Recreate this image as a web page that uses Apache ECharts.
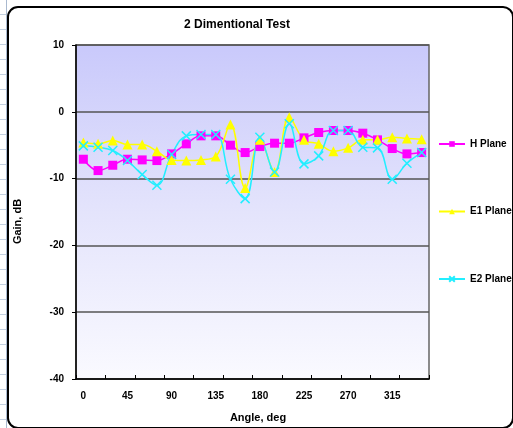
<!DOCTYPE html>
<html>
<head>
<meta charset="utf-8">
<script src="https://cdn.jsdelivr.net/npm/echarts@6/dist/echarts.min.js"></script>
<style>
  html, body { margin: 0; padding: 0; background: #ffffff; }
  #sheet {
    position: absolute; left: 0; top: 0; width: 6px; height: 428px;
    border-right: 1px solid #a9b9cf;
    background: repeating-linear-gradient(to bottom, transparent 0, transparent 14px, #c3d0e0 14px, #c3d0e0 15px);
  }
  #frame {
    position: absolute; left: 7px; top: 6px; width: 503px; height: 419px;
    border: 2px solid #000; border-radius: 11px; background: #fff;
  }
  #chart { position: absolute; left: 0; top: 0; width: 513px; height: 428px; }
</style>
</head>
<body>
<div id="sheet"></div>
<div id="frame"></div>
<div id="chart"></div>
<script>
// Measurement angles (deg) and gain readings (dB) for each plane
const angles = ['0', '15', '30', '45', '60', '75', '90', '105', '120', '135', '150', '165',
                '180', '195', '210', '225', '240', '255', '270', '285', '300', '315', '330', '345'];

const hPlane = [-7.1, -8.8, -8.0, -7.1, -7.2, -7.3, -6.3, -4.8, -3.6, -3.6, -5.0, -6.1,
                -5.2, -4.7, -4.7, -3.9, -3.1, -2.8, -2.8, -3.2, -4.2, -5.5, -6.3, -6.1];

const e1Plane = [-4.6, -4.8, -4.3, -4.9, -4.9, -5.9, -7.2, -7.3, -7.2, -6.7, -1.9, -11.4,
                 -4.2, -9.0, -0.8, -4.2, -4.8, -5.9, -5.4, -4.2, -4.2, -3.8, -4.0, -4.1];

const e2Plane = [-5.1, -5.3, -5.8, -7.3, -9.4, -11.0, -6.4, -3.6, -3.4, -3.4, -10.1, -13.0,
                 -3.8, -9.0, -1.8, -7.8, -6.6, -2.8, -2.8, -5.3, -5.4, -10.1, -7.7, -6.1];

const gainTicks = { min: -40, max: 10, step: 10 };

const FONT = '"Liberation Sans", Arial, sans-serif';
const crossPath = 'path://M0,0L10,10M10,0L0,10';

const chart = echarts.init(document.getElementById('chart'), null, { renderer: 'canvas' });

function lineSeries(name, data, color, symbol, size) {
  return {
    name: name,
    type: 'line',
    data: data,
    smooth: 0.4,
    symbol: symbol,
    symbolSize: size,
    showSymbol: true,
    showAllSymbol: true,
    lineStyle: { color: color, width: 1.5 },
    itemStyle: { color: color, borderColor: color, borderWidth: symbol === crossPath ? 1.5 : 0 },
    emphasis: { disabled: true }
  };
}

chart.setOption({
  animation: false,
  title: {
    text: '2 Dimentional Test',
    left: 232,
    textAlign: 'center',
    top: 14,
    textStyle: { fontFamily: FONT, fontSize: 12, fontWeight: 'bold', color: '#000' }
  },
  legend: {
    orient: 'vertical',
    left: 438,
    top: 139,
    padding: 0,
    itemWidth: 26,
    itemHeight: 7,
    itemGap: 57.5,
    textStyle: { fontFamily: FONT, fontSize: 10, fontWeight: 'bold', color: '#000' },
    data: ['H Plane', 'E1 Plane', 'E2 Plane']
  },
  grid: {
    left: 76, right: 84, top: 45, bottom: 48,
    show: true,
    borderColor: '#666',
    borderWidth: 1.5,
    backgroundColor: {
      type: 'linear', x: 0, y: 0, x2: 0, y2: 1,
      colorStops: [
        { offset: 0, color: '#c9c9fb' },
        { offset: 0.5, color: '#e4e4fc' },
        { offset: 1, color: '#fafaff' }
      ]
    }
  },
  xAxis: {
    type: 'category',
    data: angles,
    boundaryGap: true,
    name: 'Angle, deg',
    nameLocation: 'middle',
    nameGap: 33,
    nameTextStyle: { fontFamily: FONT, fontSize: 11, fontWeight: 'bold', color: '#000', padding: [0, 0, 0, 11] },
    axisLine: { onZero: false, lineStyle: { color: '#000', width: 1.5 } },
    axisTick: { show: true, inside: true, length: 4, interval: 1, lineStyle: { color: '#000' } },
    axisLabel: { interval: 2, margin: 12, fontFamily: FONT, fontSize: 10, fontWeight: 'bold', color: '#000' },
    splitLine: { show: false }
  },
  yAxis: {
    type: 'value',
    min: gainTicks.min,
    max: gainTicks.max,
    interval: gainTicks.step,
    name: 'Gain, dB',
    nameLocation: 'middle',
    nameGap: 53,
    nameRotate: 90,
    nameTextStyle: { fontFamily: FONT, fontSize: 11, fontWeight: 'bold', color: '#000', padding: [0, 19, 0, 0] },
    axisLine: { show: true, onZero: false, lineStyle: { color: '#000', width: 1.5 } },
    axisTick: { show: true, length: 4, lineStyle: { color: '#000' } },
    axisLabel: { margin: 12, fontFamily: FONT, fontSize: 10, fontWeight: 'bold', color: '#000' },
    splitLine: { show: true, lineStyle: { color: '#555', width: 1.5 } }
  },
  series: [
    lineSeries('H Plane', hPlane, '#ff00ff', 'rect', 9),
    lineSeries('E1 Plane', e1Plane, '#ffff00', 'triangle', 10),
    lineSeries('E2 Plane', e2Plane, '#22eeff', crossPath, 9)
  ]
});
</script>
</body>
</html>
